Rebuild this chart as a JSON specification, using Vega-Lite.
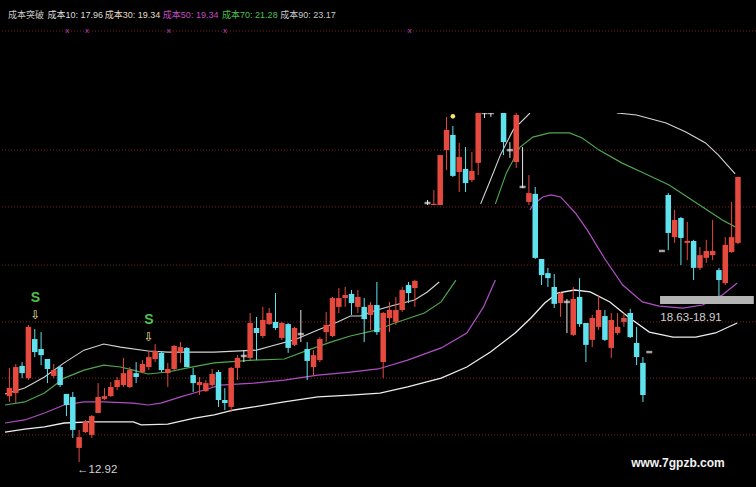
{
  "$schema": "https://vega.github.io/schema/vega-lite/v6.json",
  "width": 756,
  "height": 374,
  "autosize": {"type": "none"},
  "padding": {"top": 113, "left": 0, "right": 0, "bottom": 0},
  "background": "#000000",
  "config": {"view": {"stroke": null}, "font": "Liberation Sans"},
  "datasets": {
    "grid": [{"p": 28.48}, {"p": 24.18}, {"p": 22.13}, {"p": 20.03}, {"p": 17.98}, {"p": 15.95}, {"p": 13.90}],
    "candles": [
      {"i":0,"o":15.30,"c":15.59,"h":16.32,"l":15.09},
      {"i":1,"o":15.41,"c":16.35,"h":16.46,"l":15.05},
      {"i":2,"o":16.39,"c":16.13,"h":16.53,"l":15.95},
      {"i":3,"o":15.95,"c":17.80,"h":17.87,"l":15.88},
      {"i":4,"o":17.36,"c":16.89,"h":17.72,"l":16.71},
      {"i":5,"o":17.00,"c":16.78,"h":17.61,"l":16.42},
      {"i":6,"o":16.64,"c":16.28,"h":16.64,"l":15.77},
      {"i":7,"o":16.03,"c":16.24,"h":16.46,"l":15.95},
      {"i":8,"o":16.35,"c":15.70,"h":16.39,"l":15.63},
      {"i":9,"o":15.38,"c":14.98,"h":15.38,"l":14.58},
      {"i":10,"o":15.27,"c":14.08,"h":15.45,"l":13.79},
      {"i":11,"o":13.43,"c":13.82,"h":14.08,"l":12.92},
      {"i":12,"o":14.00,"c":14.37,"h":14.44,"l":13.97},
      {"i":13,"o":13.90,"c":14.58,"h":14.62,"l":13.79},
      {"i":14,"o":14.69,"c":15.27,"h":15.77,"l":14.69},
      {"i":15,"o":15.20,"c":15.30,"h":15.59,"l":15.16},
      {"i":16,"o":15.30,"c":15.63,"h":15.81,"l":15.27},
      {"i":17,"o":15.63,"c":15.88,"h":15.99,"l":15.52},
      {"i":18,"o":15.70,"c":16.13,"h":16.68,"l":15.63},
      {"i":19,"o":15.63,"c":16.24,"h":16.35,"l":15.59},
      {"i":20,"o":16.13,"c":15.99,"h":16.53,"l":15.77},
      {"i":21,"o":16.17,"c":16.46,"h":16.60,"l":16.13},
      {"i":22,"o":16.35,"c":16.71,"h":16.96,"l":16.24},
      {"i":23,"o":16.64,"c":16.93,"h":17.18,"l":16.53},
      {"i":24,"o":16.86,"c":16.24,"h":16.93,"l":16.17},
      {"i":25,"o":16.13,"c":16.28,"h":16.50,"l":15.63},
      {"i":26,"o":16.28,"c":17.11,"h":17.15,"l":16.24},
      {"i":27,"o":16.89,"c":17.07,"h":17.25,"l":16.50},
      {"i":28,"o":17.04,"c":16.35,"h":17.07,"l":16.35},
      {"i":29,"o":16.06,"c":15.77,"h":16.32,"l":15.45},
      {"i":30,"o":15.70,"c":15.81,"h":15.99,"l":15.34},
      {"i":31,"o":15.48,"c":15.77,"h":15.88,"l":15.45},
      {"i":32,"o":15.70,"c":16.10,"h":16.28,"l":15.63},
      {"i":33,"o":16.17,"c":15.16,"h":16.24,"l":14.91},
      {"i":34,"o":15.16,"c":15.05,"h":15.59,"l":14.80},
      {"i":35,"o":14.91,"c":16.32,"h":16.35,"l":14.73},
      {"i":36,"o":16.32,"c":16.68,"h":16.78,"l":15.88},
      {"i":37,"o":16.75,"c":16.75,"h":16.96,"l":16.53},
      {"i":38,"o":16.68,"c":17.94,"h":18.30,"l":16.60},
      {"i":39,"o":17.76,"c":17.58,"h":18.16,"l":16.60},
      {"i":40,"o":17.47,"c":18.05,"h":18.52,"l":17.40},
      {"i":41,"o":17.90,"c":18.30,"h":18.48,"l":17.87},
      {"i":42,"o":17.98,"c":17.76,"h":19.02,"l":17.69},
      {"i":43,"o":17.40,"c":17.94,"h":17.98,"l":17.33},
      {"i":44,"o":17.90,"c":17.04,"h":17.94,"l":16.86},
      {"i":45,"o":17.15,"c":17.76,"h":17.80,"l":17.11},
      {"i":46,"o":17.54,"c":17.54,"h":18.41,"l":17.25},
      {"i":47,"o":17.00,"c":16.57,"h":17.25,"l":15.88},
      {"i":48,"o":16.35,"c":16.78,"h":16.96,"l":16.06},
      {"i":49,"o":16.60,"c":17.36,"h":17.43,"l":16.53},
      {"i":50,"o":17.61,"c":17.87,"h":18.34,"l":17.25},
      {"i":51,"o":17.47,"c":18.84,"h":18.88,"l":17.43},
      {"i":52,"o":18.52,"c":18.84,"h":19.20,"l":18.30},
      {"i":53,"o":18.84,"c":18.95,"h":19.24,"l":18.52},
      {"i":54,"o":18.99,"c":18.66,"h":19.13,"l":18.23},
      {"i":55,"o":18.52,"c":18.88,"h":19.13,"l":18.30},
      {"i":56,"o":18.52,"c":18.08,"h":18.84,"l":17.25},
      {"i":57,"o":18.23,"c":18.59,"h":18.70,"l":17.69},
      {"i":58,"o":18.59,"c":17.61,"h":19.42,"l":17.51},
      {"i":59,"o":16.53,"c":18.30,"h":18.34,"l":15.95},
      {"i":60,"o":18.12,"c":18.41,"h":18.70,"l":17.61},
      {"i":61,"o":17.98,"c":18.41,"h":18.88,"l":17.87},
      {"i":62,"o":18.41,"c":19.13,"h":19.24,"l":18.34},
      {"i":63,"o":19.31,"c":19.02,"h":19.42,"l":18.66},
      {"i":64,"o":19.20,"c":19.46,"h":19.49,"l":18.52},
      {"i":66,"o":22.27,"c":22.27,"h":22.38,"l":22.20},
      {"i":67,"o":22.20,"c":22.24,"h":22.74,"l":22.20},
      {"i":68,"o":22.20,"c":24.00,"h":24.00,"l":22.20},
      {"i":69,"o":24.18,"c":24.91,"h":25.38,"l":23.46},
      {"i":70,"o":24.73,"c":23.25,"h":25.05,"l":23.21},
      {"i":71,"o":23.39,"c":23.93,"h":24.44,"l":22.67},
      {"i":72,"o":23.50,"c":22.99,"h":24.29,"l":22.67},
      {"i":73,"o":23.10,"c":23.43,"h":24.11,"l":23.03},
      {"i":74,"o":23.72,"c":25.52,"h":25.52,"l":23.28},
      {"i":75,"o":25.52,"c":25.52,"h":25.52,"l":25.34},
      {"i":76,"o":25.52,"c":25.52,"h":25.52,"l":25.38},
      {"i":78,"o":25.52,"c":24.47,"h":25.52,"l":24.00},
      {"i":79,"o":24.18,"c":24.18,"h":24.47,"l":23.90},
      {"i":80,"o":23.75,"c":25.45,"h":25.52,"l":23.54},
      {"i":81,"o":22.85,"c":22.85,"h":24.29,"l":22.81},
      {"i":82,"o":22.31,"c":22.63,"h":23.28,"l":22.20},
      {"i":83,"o":22.60,"c":20.29,"h":22.85,"l":20.25},
      {"i":84,"o":20.25,"c":19.67,"h":20.25,"l":19.31},
      {"i":85,"o":19.74,"c":19.56,"h":19.93,"l":19.24},
      {"i":86,"o":19.24,"c":18.63,"h":19.71,"l":18.48},
      {"i":87,"o":18.66,"c":19.02,"h":19.06,"l":18.16},
      {"i":88,"o":18.70,"c":18.70,"h":18.81,"l":17.58},
      {"i":89,"o":17.51,"c":18.81,"h":19.24,"l":17.47},
      {"i":90,"o":18.88,"c":17.90,"h":19.56,"l":17.80},
      {"i":91,"o":17.94,"c":17.15,"h":17.94,"l":16.53},
      {"i":92,"o":17.33,"c":18.12,"h":18.23,"l":17.07},
      {"i":93,"o":17.80,"c":18.41,"h":18.91,"l":17.69},
      {"i":94,"o":18.19,"c":17.33,"h":18.41,"l":17.29},
      {"i":95,"o":17.04,"c":18.05,"h":18.30,"l":16.68},
      {"i":96,"o":17.58,"c":17.80,"h":18.30,"l":17.51},
      {"i":97,"o":17.98,"c":18.12,"h":18.30,"l":17.80},
      {"i":98,"o":18.30,"c":17.43,"h":18.45,"l":17.40},
      {"i":99,"o":17.22,"c":16.71,"h":17.80,"l":16.42},
      {"i":100,"o":16.50,"c":15.34,"h":16.71,"l":15.09},
      {"i":101,"o":16.89,"c":16.89,"h":16.89,"l":16.89},
      {"i":103,"o":20.54,"c":20.54,"h":20.54,"l":20.54},
      {"i":104,"o":22.56,"c":21.19,"h":22.63,"l":20.57},
      {"i":105,"o":21.04,"c":21.66,"h":22.02,"l":20.83},
      {"i":106,"o":21.73,"c":21.01,"h":21.77,"l":20.03},
      {"i":107,"o":20.83,"c":20.90,"h":21.59,"l":20.21},
      {"i":108,"o":20.90,"c":19.93,"h":20.94,"l":19.49},
      {"i":109,"o":19.93,"c":20.39,"h":20.68,"l":19.85},
      {"i":110,"o":20.29,"c":20.54,"h":20.94,"l":20.11},
      {"i":111,"o":20.39,"c":20.54,"h":21.66,"l":20.21},
      {"i":112,"o":19.85,"c":19.49,"h":19.93,"l":18.88},
      {"i":113,"o":19.38,"c":20.76,"h":21.04,"l":19.31},
      {"i":114,"o":20.50,"c":21.04,"h":22.31,"l":20.47},
      {"i":115,"o":20.83,"c":23.21,"h":23.21,"l":20.79}
    ],
    "lines": [
      {"s":"u1","k":"u","i":-0.70,"p":15.38},{"s":"u1","k":"u","i":2.41,"p":15.59},{"s":"u1","k":"u","i":5.53,"p":15.99},{"s":"u1","k":"u","i":8.64,"p":16.50},{"s":"u1","k":"u","i":11.76,"p":16.96},{"s":"u1","k":"u","i":14.88,"p":17.18},{"s":"u1","k":"u","i":17.52,"p":17.07},{"s":"u1","k":"u","i":21.88,"p":16.93},{"s":"u1","k":"u","i":25.00,"p":16.89},{"s":"u1","k":"u","i":32.32,"p":16.89},{"s":"u1","k":"u","i":39.02,"p":16.96},{"s":"u1","k":"u","i":41.36,"p":17.11},{"s":"u1","k":"u","i":44.94,"p":17.33},{"s":"u1","k":"u","i":48.68,"p":17.69},{"s":"u1","k":"u","i":51.79,"p":17.98},{"s":"u1","k":"u","i":53.82,"p":18.19},{"s":"u1","k":"u","i":55.37,"p":18.19},{"s":"u1","k":"u","i":58.02,"p":18.41},{"s":"u1","k":"u","i":60.83,"p":18.59},{"s":"u1","k":"u","i":63.94,"p":18.77},{"s":"u1","k":"u","i":65.97,"p":19.06},{"s":"u1","k":"u","i":67.84,"p":19.42},
      {"s":"u2","k":"u","i":74.38,"p":22.24},{"s":"u2","k":"u","i":75.93,"p":23.10},{"s":"u2","k":"u","i":77.49,"p":24.00},{"s":"u2","k":"u","i":79.52,"p":24.91},{"s":"u2","k":"u","i":82.17,"p":25.52},
      {"s":"u3","k":"u","i":95.87,"p":25.52},{"s":"u3","k":"u","i":98.99,"p":25.45},{"s":"u3","k":"u","i":103.66,"p":25.16},{"s":"u3","k":"u","i":106.78,"p":24.83},{"s":"u3","k":"u","i":109.89,"p":24.44},{"s":"u3","k":"u","i":111.92,"p":24.00},{"s":"u3","k":"u","i":113.32,"p":23.64},{"s":"u3","k":"u","i":114.56,"p":23.32},
      {"s":"g1","k":"g","i":-0.70,"p":14.98},{"s":"g1","k":"g","i":2.41,"p":15.09},{"s":"g1","k":"g","i":5.53,"p":15.41},{"s":"g1","k":"g","i":8.64,"p":15.95},{"s":"g1","k":"g","i":11.76,"p":16.24},{"s":"g1","k":"g","i":14.88,"p":16.42},{"s":"g1","k":"g","i":17.52,"p":16.35},{"s":"g1","k":"g","i":19.55,"p":16.24},{"s":"g1","k":"g","i":21.88,"p":16.10},{"s":"g1","k":"g","i":25.00,"p":16.17},{"s":"g1","k":"g","i":28.12,"p":16.32},{"s":"g1","k":"g","i":32.32,"p":16.50},{"s":"g1","k":"g","i":38.55,"p":16.60},{"s":"g1","k":"g","i":43.38,"p":16.64},{"s":"g1","k":"g","i":47.12,"p":16.96},{"s":"g1","k":"g","i":50.70,"p":17.25},{"s":"g1","k":"g","i":53.82,"p":17.47},{"s":"g1","k":"g","i":58.02,"p":17.69},{"s":"g1","k":"g","i":60.83,"p":17.94},{"s":"g1","k":"g","i":65.50,"p":18.30},{"s":"g1","k":"g","i":68.15,"p":18.70},{"s":"g1","k":"g","i":70.48,"p":19.49},
      {"s":"g2","k":"g","i":76.71,"p":22.24},{"s":"g2","k":"g","i":78.43,"p":23.35},{"s":"g2","k":"g","i":80.61,"p":24.29},{"s":"g2","k":"g","i":82.63,"p":24.65},{"s":"g2","k":"g","i":85.28,"p":24.80},{"s":"g2","k":"g","i":88.40,"p":24.80},{"s":"g2","k":"g","i":90.42,"p":24.62},{"s":"g2","k":"g","i":93.07,"p":24.18},{"s":"g2","k":"g","i":96.65,"p":23.72},{"s":"g2","k":"g","i":99.77,"p":23.39},{"s":"g2","k":"g","i":104.13,"p":22.92},{"s":"g2","k":"g","i":109.42,"p":22.13},{"s":"g2","k":"g","i":112.54,"p":21.66},{"s":"g2","k":"g","i":114.56,"p":21.41},
      {"s":"m1","k":"m","i":-0.70,"p":14.33},{"s":"m1","k":"m","i":2.41,"p":14.44},{"s":"m1","k":"m","i":5.53,"p":14.69},{"s":"m1","k":"m","i":8.64,"p":14.98},{"s":"m1","k":"m","i":11.76,"p":15.09},{"s":"m1","k":"m","i":14.88,"p":15.09},{"s":"m1","k":"m","i":19.55,"p":15.05},{"s":"m1","k":"m","i":21.88,"p":14.98},{"s":"m1","k":"m","i":23.91,"p":15.05},{"s":"m1","k":"m","i":27.02,"p":15.27},{"s":"m1","k":"m","i":29.67,"p":15.45},{"s":"m1","k":"m","i":33.26,"p":15.70},{"s":"m1","k":"m","i":38.55,"p":15.77},{"s":"m1","k":"m","i":43.38,"p":15.88},{"s":"m1","k":"m","i":48.68,"p":16.06},{"s":"m1","k":"m","i":53.82,"p":16.17},{"s":"m1","k":"m","i":58.18,"p":16.28},{"s":"m1","k":"m","i":62.85,"p":16.60},{"s":"m1","k":"m","i":68.15,"p":17.04},{"s":"m1","k":"m","i":72.20,"p":17.58},{"s":"m1","k":"m","i":74.84,"p":18.52},{"s":"m1","k":"m","i":76.71,"p":19.49},
      {"s":"m2","k":"m","i":82.17,"p":22.02},{"s":"m2","k":"m","i":82.63,"p":22.20},{"s":"m2","k":"m","i":84.19,"p":22.49},{"s":"m2","k":"m","i":85.44,"p":22.56},{"s":"m2","k":"m","i":87.00,"p":22.49},{"s":"m2","k":"m","i":89.33,"p":21.91},{"s":"m2","k":"m","i":91.20,"p":21.30},{"s":"m2","k":"m","i":94.00,"p":20.25},{"s":"m2","k":"m","i":96.81,"p":19.31},{"s":"m2","k":"m","i":99.92,"p":18.70},{"s":"m2","k":"m","i":102.57,"p":18.55},{"s":"m2","k":"m","i":106.31,"p":18.48},{"s":"m2","k":"m","i":109.42,"p":18.59},{"s":"m2","k":"m","i":112.54,"p":18.95},{"s":"m2","k":"m","i":114.88,"p":19.38},
      {"s":"w1","k":"w","i":-0.70,"p":14.00},{"s":"w1","k":"w","i":2.41,"p":14.11},{"s":"w1","k":"w","i":5.53,"p":14.19},{"s":"w1","k":"w","i":8.64,"p":14.33},{"s":"w1","k":"w","i":12.85,"p":14.37},{"s":"w1","k":"w","i":19.55,"p":14.37},{"s":"w1","k":"w","i":20.79,"p":14.26},{"s":"w1","k":"w","i":25.00,"p":14.29},{"s":"w1","k":"w","i":29.21,"p":14.51},{"s":"w1","k":"w","i":32.32,"p":14.62},{"s":"w1","k":"w","i":35.44,"p":14.80},{"s":"w1","k":"w","i":38.55,"p":14.91},{"s":"w1","k":"w","i":43.38,"p":15.09},{"s":"w1","k":"w","i":48.68,"p":15.27},{"s":"w1","k":"w","i":53.82,"p":15.34},{"s":"w1","k":"w","i":58.49,"p":15.41},{"s":"w1","k":"w","i":62.85,"p":15.63},{"s":"w1","k":"w","i":68.15,"p":15.95},{"s":"w1","k":"w","i":72.20,"p":16.35},{"s":"w1","k":"w","i":75.93,"p":16.89},{"s":"w1","k":"w","i":79.83,"p":17.58},{"s":"w1","k":"w","i":82.32,"p":18.12},{"s":"w1","k":"w","i":84.50,"p":18.66},{"s":"w1","k":"w","i":86.53,"p":19.02},{"s":"w1","k":"w","i":89.18,"p":19.13},{"s":"w1","k":"w","i":91.67,"p":19.06},{"s":"w1","k":"w","i":94.78,"p":18.70},{"s":"w1","k":"w","i":97.90,"p":18.12},{"s":"w1","k":"w","i":101.01,"p":17.61},{"s":"w1","k":"w","i":104.75,"p":17.43},{"s":"w1","k":"w","i":108.33,"p":17.43},{"s":"w1","k":"w","i":111.45,"p":17.58},{"s":"w1","k":"w","i":114.88,"p":17.94}
    ],
    "zone": [{"a": 102.7, "b": 117.5, "lo": 18.63, "hi": 18.91}],
    "header": [
      {"t": "成本突破", "n": "t", "i": -0.23, "p": 29.06},
      {"t": "成本10: 17.96", "n": "c10", "i": 5.99, "p": 29.06},
      {"t": "成本30: 19.34", "n": "c30", "i": 15.03, "p": 29.06},
      {"t": "成本50: 19.34", "n": "c50", "i": 24.22, "p": 29.06},
      {"t": "成本70: 21.28", "n": "c70", "i": 33.57, "p": 29.06},
      {"t": "成本90: 23.17", "n": "c90", "i": 42.76, "p": 29.06}
    ],
    "marks": [{"i": 9.11, "p": 28.48}, {"i": 12.23, "p": 28.48}, {"i": 25.16, "p": 28.48}, {"i": 34.03, "p": 28.48}, {"i": 63.16, "p": 28.48}],
    "signals": [{"i": 4.1, "s": 18.84, "a": 18.23}, {"i": 22.0, "s": 18.05, "a": 17.43}],
    "bulb": [{"i": 70.0, "p": 25.40}],
    "notes": [
      {"t": "←12.92", "i": 10.67, "p": 12.63},
      {"t": "18.63-18.91", "i": 102.75, "p": 18.12}
    ]
  },
  "layer": [
    {
      "data": {"name": "grid"},
      "mark": {"type": "rule", "color": "#7a2222", "strokeWidth": 1, "strokeDash": [1, 2]},
      "encoding": {
        "y": {"field": "p", "type": "quantitative", "scale": {"domain": [12.02, 25.52], "nice": false, "zero": false}, "axis": null}
      }
    },
    {
      "data": {"name": "lines"},
      "mark": {"type": "line", "clip": true},
      "encoding": {
        "x": {"field": "i", "type": "quantitative", "scale": {"domain": [-0.70, 117.06], "nice": false, "zero": false}, "axis": null},
        "y": {"field": "p", "type": "quantitative", "axis": null},
        "detail": {"field": "s"},
        "color": {"field": "k", "type": "nominal", "scale": {"domain": ["u", "g", "m", "w"], "range": ["#d4d4d4", "#4fa84f", "#b04fc4", "#ececec"]}, "legend": null},
        "strokeWidth": {"field": "k", "type": "nominal", "scale": {"domain": ["u", "g", "m", "w"], "range": [1.1, 1.3, 2.2, 2.4]}, "legend": null}
      }
    },
    {
      "data": {"name": "candles"},
      "transform": [{"calculate": "datum.c > datum.o ? 'up' : (datum.c < datum.o ? 'down' : 'flat')", "as": "dir"}],
      "layer": [
        {
          "mark": {"type": "rule", "strokeWidth": 1, "clip": true},
          "encoding": {
            "x": {"field": "i", "type": "quantitative", "axis": null},
            "y": {"field": "h", "type": "quantitative", "axis": null},
            "y2": {"field": "l"},
            "color": {"field": "dir", "type": "nominal", "scale": {"domain": ["up", "down", "flat"], "range": ["#e6493e", "#5fe2ee", "#e6e6e6"]}, "legend": null}
          }
        },
        {
          "transform": [{"filter": "datum.dir != 'flat'"}],
          "mark": {"type": "bar", "width": 5.5, "clip": true},
          "encoding": {
            "x": {"field": "i", "type": "quantitative", "axis": null},
            "y": {"field": "o", "type": "quantitative", "axis": null},
            "y2": {"field": "c"},
            "color": {"field": "dir", "type": "nominal", "scale": {"domain": ["up", "down", "flat"], "range": ["#e6493e", "#5fe2ee", "#e6e6e6"]}, "legend": null}
          }
        },
        {
          "transform": [{"filter": "datum.dir == 'flat'"}],
          "mark": {"type": "tick", "orient": "horizontal", "size": 6, "thickness": 2.5, "color": "#e6e6e6", "clip": true},
          "encoding": {
            "x": {"field": "i", "type": "quantitative", "axis": null},
            "y": {"field": "o", "type": "quantitative", "axis": null}
          }
        }
      ]
    },
    {
      "data": {"name": "zone"},
      "mark": {"type": "rect", "color": "#b4b4b4", "clip": true},
      "encoding": {
        "x": {"field": "a", "type": "quantitative", "axis": null},
        "x2": {"field": "b"},
        "y": {"field": "lo", "type": "quantitative", "axis": null},
        "y2": {"field": "hi"}
      }
    },
    {
      "data": {"name": "header"},
      "mark": {"type": "text", "align": "left", "baseline": "middle", "fontSize": 9, "font": "Liberation Sans, Noto Sans CJK SC, sans-serif"},
      "encoding": {
        "x": {"field": "i", "type": "quantitative", "axis": null},
        "y": {"field": "p", "type": "quantitative", "axis": null},
        "text": {"field": "t"},
        "color": {"field": "n", "type": "nominal", "scale": {"domain": ["t", "c10", "c30", "c50", "c70", "c90"], "range": ["#c8c8c8", "#dcdcdc", "#e2dcc4", "#c04cc4", "#4cc04c", "#c8c8c8"]}, "legend": null}
      }
    },
    {
      "data": {"name": "marks"},
      "mark": {"type": "text", "text": "x", "fontSize": 8, "color": "#c040c8", "baseline": "middle"},
      "encoding": {
        "x": {"field": "i", "type": "quantitative", "axis": null},
        "y": {"field": "p", "type": "quantitative", "axis": null}
      }
    },
    {
      "data": {"name": "bulb"},
      "mark": {"type": "point", "filled": true, "size": 22, "color": "#f4e36a", "opacity": 1},
      "encoding": {
        "x": {"field": "i", "type": "quantitative", "axis": null},
        "y": {"field": "p", "type": "quantitative", "axis": null}
      }
    },
    {
      "data": {"name": "signals"},
      "layer": [
        {
          "mark": {"type": "text", "text": "S", "fontSize": 14, "fontWeight": "bold", "color": "#4fc04f", "baseline": "middle", "font": "Liberation Sans"},
          "encoding": {
            "x": {"field": "i", "type": "quantitative", "axis": null},
            "y": {"field": "s", "type": "quantitative", "axis": null}
          }
        },
        {
          "mark": {"type": "text", "text": "⇩", "fontSize": 12, "color": "#f2e6a0", "baseline": "middle", "font": "DejaVu Sans"},
          "encoding": {
            "x": {"field": "i", "type": "quantitative", "axis": null},
            "y": {"field": "a", "type": "quantitative", "axis": null}
          }
        }
      ]
    },
    {
      "data": {"name": "notes"},
      "mark": {"type": "text", "align": "left", "baseline": "middle", "fontSize": 11.5, "color": "#d2d2d2", "font": "Liberation Sans"},
      "encoding": {
        "x": {"field": "i", "type": "quantitative", "axis": null},
        "y": {"field": "p", "type": "quantitative", "axis": null},
        "text": {"field": "t"}
      }
    },
    {
      "data": {"values": [{"t": "www.7gpzb.com", "i": 105.53, "p": 12.89}]},
      "mark": {"type": "text", "align": "center", "baseline": "middle", "fontSize": 12, "fontWeight": "bold", "color": "#f2f2f2"},
      "encoding": {
        "x": {"field": "i", "type": "quantitative", "axis": null},
        "y": {"field": "p", "type": "quantitative", "axis": null},
        "text": {"field": "t"}
      }
    }
  ],
  "resolve": {"scale": {"color": "independent", "strokeWidth": "independent"}}
}
